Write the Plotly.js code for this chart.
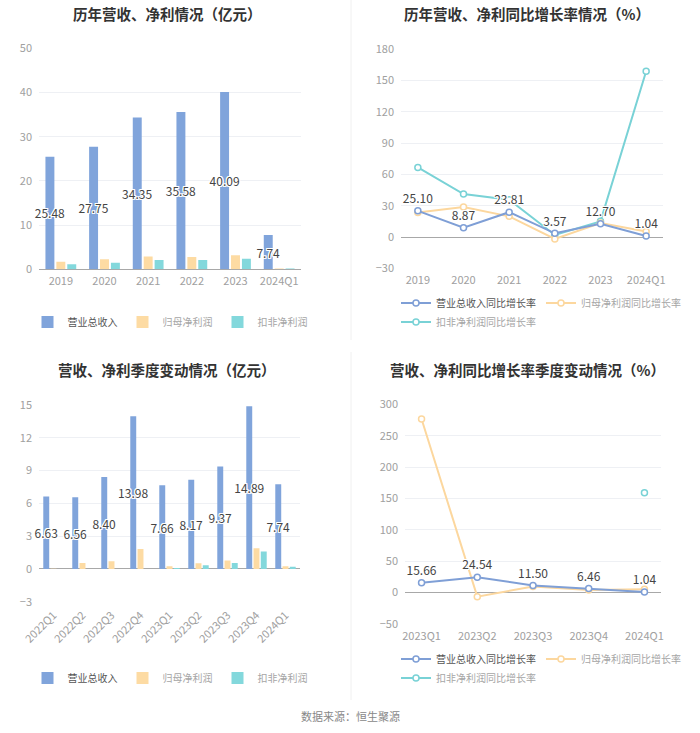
<!DOCTYPE html>
<html>
<head>
<meta charset="utf-8">
<script src="https://cdn.plot.ly/plotly-3.0.1.min.js"></script>
<style>
html,body{margin:0;padding:0;background:#fff;}
#chart{width:700px;height:733px;}
</style>
</head>
<body>
<div id="chart"></div>
<script>
// ---------- data ----------
const years = ['2019', '2020', '2021', '2022', '2023', '2024Q1'];
const revenue = [25.48, 27.75, 34.35, 35.58, 40.09, 7.74];
const netProfit = [1.73, 2.3, 2.87, 2.8, 3.17, 0.2];
const deductedProfit = [1.13, 1.5, 2.1, 2.1, 2.4, 0.2];

const revenueGrowth = [25.10, 8.87, 23.81, 3.57, 12.70, 1.04];
const netGrowth = [23.6, 28.7, 19.8, -1.9, 13.4, 5.3];
const deductedGrowth = [66.7, 41.2, 35.8, 2.0, 15.0, 159.0];

const quarters = ['2022Q1', '2022Q2', '2022Q3', '2022Q4', '2023Q1', '2023Q2', '2023Q3', '2023Q4', '2024Q1'];
const qRevenue = [6.63, 6.56, 8.40, 13.98, 7.66, 8.17, 9.37, 14.89, 7.74];
const qNetProfit = [0.02, 0.55, 0.7, 1.82, 0.24, 0.52, 0.76, 1.9, 0.24];
const qDeductedProfit = [null, null, null, null, 0.09, 0.33, 0.55, 1.6, 0.2];

const gQuarters = ['2023Q1', '2023Q2', '2023Q3', '2023Q4', '2024Q1'];
const qRevenueGrowth = [15.66, 24.54, 11.50, 6.46, 1.04];
const qNetGrowth = [276.7, -6.4, 9.6, 4.2, 5.3];
const qDeductedGrowth = [null, null, null, null, 159.0];

const titles = ['历年营收、净利情况（亿元）', '历年营收、净利同比增长率情况（%）', '营收、净利季度变动情况（亿元）', '营收、净利同比增长率季度变动情况（%）'];
const names = ['营业总收入', '归母净利润', '扣非净利润'];
const growthNames = ['营业总收入同比增长率', '归母净利润同比增长率', '扣非净利润同比增长率'];
const sourceText = '数据来源：恒生聚源';

// ---------- styles ----------
const W = 700, H = 733;
const FONT = '"Noto Sans CJK SC", "Noto Sans", sans-serif';
const C_BLUE = '#80a4db', C_ORANGE = '#fddba3', C_TEAL = '#83d8dc';
const L_BLUE = '#7f9fd6', L_ORANGE = '#fcd79e', L_TEAL = '#79d2d6';
const SHADOW = '1px 0 0 #fff, -1px 0 0 #fff, 0 1px 0 #fff, 0 -1px 0 #fff, 1px 1px 0 #fff, -1px -1px 0 #fff, 1px -1px 0 #fff, -1px 1px 0 #fff';
const fmt = v => v.toFixed(2);
const px = x => x / W;
const py = y => 1 - y / H;
const dim = s => '<span style="color:#a6a6a6">' + s + '</span>';

function barTrace(x, y, name, color, xa, ya, leg, withText) {
  const t = {
    type: 'bar', x: x, y: y, name: name, xaxis: xa, yaxis: ya,
    marker: {color: color}, legend: leg, showlegend: true,
    cliponaxis: false, hoverinfo: 'skip'
  };
  if (withText) {
    t.text = y.map(fmt);
    t.textposition = 'inside';
    t.insidetextanchor = 'middle';
    t.constraintext = 'none';
    t.textangle = 0;
    t.insidetextfont = {family: FONT, size: 12, color: '#444', shadow: SHADOW};
  }
  return t;
}

function lineTrace(x, y, name, color, xa, ya, leg, withText) {
  const t = {
    type: 'scatter', mode: withText ? 'lines+markers+text' : 'lines+markers',
    x: x, y: y, name: name, xaxis: xa, yaxis: ya, legend: leg,
    line: {color: color, width: 2},
    marker: {symbol: 'circle', size: 6, color: '#fff', line: {color: color, width: 1.5}},
    cliponaxis: false, hoverinfo: 'skip'
  };
  if (withText) {
    t.text = y.map(fmt);
    t.textposition = 'top center';
    t.textfont = {family: FONT, size: 12, color: '#444', shadow: SHADOW};
  }
  return t;
}

const traces = [
  // chart 1
  barTrace(years, revenue, names[0], C_BLUE, 'x', 'y', 'legend', true),
  barTrace(years, netProfit, dim(names[1]), C_ORANGE, 'x', 'y', 'legend', false),
  barTrace(years, deductedProfit, dim(names[2]), C_TEAL, 'x', 'y', 'legend', false),
  // chart 2
  lineTrace(years, deductedGrowth, dim(growthNames[2]), L_TEAL, 'x2', 'y2', 'legend3', false),
  lineTrace(years, netGrowth, dim(growthNames[1]), L_ORANGE, 'x2', 'y2', 'legend2', false),
  lineTrace(years, revenueGrowth, growthNames[0], L_BLUE, 'x2', 'y2', 'legend2', true),
  // chart 3
  barTrace(quarters, qRevenue, names[0], C_BLUE, 'x3', 'y3', 'legend4', true),
  barTrace(quarters, qNetProfit, dim(names[1]), C_ORANGE, 'x3', 'y3', 'legend4', false),
  barTrace(quarters, qDeductedProfit, dim(names[2]), C_TEAL, 'x3', 'y3', 'legend4', false),
  // chart 4
  lineTrace(gQuarters, qDeductedGrowth, dim(growthNames[2]), L_TEAL, 'x4', 'y4', 'legend6', false),
  lineTrace(gQuarters, qNetGrowth, dim(growthNames[1]), L_ORANGE, 'x4', 'y4', 'legend5', false),
  lineTrace(gQuarters, qRevenueGrowth, growthNames[0], L_BLUE, 'x4', 'y4', 'legend5', true)
];
// legend order: revenue first
traces[5].legendrank = 1; traces[4].legendrank = 2;
traces[11].legendrank = 1; traces[10].legendrank = 2;

const tickFont = {family: FONT, size: 11, color: '#a0a0a0'};
function xaxis(dom, anchor, angle) {
  return {
    domain: dom, anchor: anchor, type: 'category',
    showgrid: false, zeroline: false, showline: false,
    ticks: '', tickfont: tickFont, tickangle: angle || 0,
    ticklabelstandoff: 4, fixedrange: true
  };
}
function yaxis(dom, anchor, range, dtick) {
  return {
    domain: dom, anchor: anchor, range: range, dtick: dtick, tick0: 0,
    showgrid: true, gridcolor: '#eef0f4', gridwidth: 1,
    zeroline: true, zerolinecolor: '#a8a8a8', zerolinewidth: 1,
    showline: false, ticks: '', tickfont: tickFont,
    ticklabelstandoff: 6, fixedrange: true
  };
}

function legendObj(x, y, xanchor) {
  return {
    orientation: 'h', x: x, y: y, xanchor: xanchor, yanchor: 'middle',
    font: {family: FONT, size: 10, color: '#555'},
    bgcolor: 'rgba(0,0,0,0)', itemwidth: 30, traceorder: 'normal',
    itemclick: false, itemdoubleclick: false
  };
}

function titleAnn(text, x, y) {
  return {
    text: '<b>' + text + '</b>', xref: 'paper', yref: 'paper',
    x: px(x), y: py(y), xanchor: 'center', yanchor: 'middle', showarrow: false,
    font: {family: FONT, size: 14.5, color: '#333'}
  };
}

const layout = {
  width: W, height: H,
  margin: {l: 0, r: 0, t: 0, b: 0},
  paper_bgcolor: '#fff', plot_bgcolor: '#fff',
  barmode: 'group', bargap: 0.25, bargroupgap: 0.18,
  font: {family: FONT},
  xaxis: xaxis([px(39), px(301)], 'y'),
  yaxis: yaxis([py(269.3), py(48.3)], 'x', [0, 50], 10),
  xaxis2: xaxis([px(401), px(663)], 'y2'),
  yaxis2: yaxis([py(268.3), py(49.3)], 'x2', [-30, 180], 30),
  xaxis3: xaxis([px(39), px(300)], 'y3', -45),
  yaxis3: yaxis([py(601.7), py(405)], 'x3', [-3, 15], 3),
  xaxis4: xaxis([px(405), px(661)], 'y4'),
  yaxis4: yaxis([py(624), py(404.3)], 'x4', [-50, 300], 50),
  legend: legendObj(px(170), py(322), 'center'),
  legend2: legendObj(px(396), py(303), 'left'),
  legend3: legendObj(px(396), py(322), 'left'),
  legend4: legendObj(px(170), py(678), 'center'),
  legend5: legendObj(px(396), py(659), 'left'),
  legend6: legendObj(px(396), py(678), 'left'),
  annotations: [
    titleAnn(titles[0], 167, 13),
    titleAnn(titles[1], 527, 13),
    titleAnn(titles[2], 167, 369),
    titleAnn(titles[3], 527, 369),
    {
      text: sourceText, xref: 'paper', yref: 'paper', x: 0.5, y: py(716),
      xanchor: 'center', yanchor: 'middle', showarrow: false,
      font: {family: FONT, size: 11, color: '#888'}
    }
  ],
  shapes: [
    {type: 'line', xref: 'paper', yref: 'paper', x0: px(351), x1: px(351), y0: py(0), y1: py(340), line: {color: '#f0f0f0', width: 1}},
    {type: 'line', xref: 'paper', yref: 'paper', x0: px(351), x1: px(351), y0: py(352), y1: py(700), line: {color: '#f0f0f0', width: 1}}
  ]
};

Plotly.newPlot('chart', traces, layout, {displayModeBar: false, staticPlot: true});
</script>
</body>
</html>
